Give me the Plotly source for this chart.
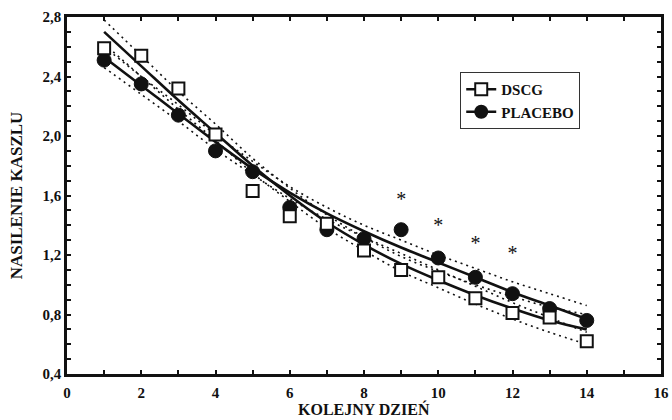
import plotly.graph_objects as go

days = [1, 2, 3, 4, 5, 6, 7, 8, 9, 10, 11, 12, 13, 14]

dscg = [2.59, 2.54, 2.32, 2.01, 1.63, 1.46, 1.41, 1.23, 1.10, 1.05, 0.91, 0.81, 0.78, 0.62]
placebo = [2.51, 2.35, 2.14, 1.90, 1.76, 1.52, 1.37, 1.31, 1.37, 1.18, 1.05, 0.94, 0.84, 0.76]

dscg_fit = [2.70, 2.47, 2.24, 2.02, 1.80, 1.60, 1.42, 1.27, 1.14, 1.03, 0.93, 0.84, 0.76, 0.70]
dscg_hi = [2.78, 2.54, 2.30, 2.08, 1.85, 1.65, 1.47, 1.32, 1.19, 1.09, 1.00, 0.92, 0.85, 0.80]
dscg_lo = [2.62, 2.40, 2.18, 1.97, 1.75, 1.56, 1.38, 1.23, 1.09, 0.98, 0.87, 0.77, 0.68, 0.60]

placebo_fit = [2.53, 2.34, 2.15, 1.96, 1.78, 1.62, 1.48, 1.36, 1.25, 1.15, 1.05, 0.95, 0.86, 0.77]
placebo_hi = [2.60, 2.40, 2.21, 2.01, 1.83, 1.66, 1.52, 1.40, 1.30, 1.20, 1.11, 1.02, 0.94, 0.86]
placebo_lo = [2.46, 2.28, 2.10, 1.91, 1.74, 1.58, 1.44, 1.32, 1.21, 1.10, 0.99, 0.88, 0.78, 0.68]

star_days = [9, 10, 11, 12]
star_vals = [1.56, 1.39, 1.27, 1.20]

x_tickvals = list(range(0, 17))
x_ticktext = [str(v) if v % 2 == 0 else "" for v in x_tickvals]
y_tickvals = [round(0.4 + 0.1 * i, 1) for i in range(25)]
y_labels = {0.4: "0,4", 0.8: "0,8", 1.2: "1,2", 1.6: "1,6", 2.0: "2,0", 2.4: "2,4", 2.8: "2,8"}
y_ticktext = [y_labels.get(v, "") for v in y_tickvals]

x_title = "KOLEJNY DZIEŃ"
y_title = "NASILENIE KASZLU"

FONT = "Liberation Serif"
BLACK = "#111111"

fig = go.Figure()

# confidence bands (dotted)
for band in [dscg_hi, dscg_lo, placebo_hi, placebo_lo]:
    fig.add_trace(go.Scatter(x=days, y=band, mode="lines", line_shape="spline",
                             line=dict(color=BLACK, width=1.6, dash="2px,4px"),
                             showlegend=False, hoverinfo="skip"))

# fitted curves
for fit in [dscg_fit, placebo_fit]:
    fig.add_trace(go.Scatter(x=days, y=fit, mode="lines", line_shape="spline",
                             line=dict(color=BLACK, width=2.6),
                             showlegend=False, hoverinfo="skip"))

# data markers
fig.add_trace(go.Scatter(x=days, y=placebo, mode="markers",
                         marker=dict(symbol="circle", size=14, color=BLACK,
                                     line=dict(color=BLACK, width=1)),
                         showlegend=False))
fig.add_trace(go.Scatter(x=days, y=dscg, mode="markers",
                         marker=dict(symbol="square", size=12, color="white",
                                     line=dict(color=BLACK, width=2)),
                         showlegend=False))

# significance stars
fig.add_trace(go.Scatter(x=star_days, y=star_vals, mode="text", text=["*"] * len(star_days),
                         textposition="middle center",
                         textfont=dict(family=FONT, size=20, color=BLACK),
                         showlegend=False, hoverinfo="skip"))

# legend entries
fig.add_trace(go.Scatter(x=[None], y=[None], mode="lines+markers", name="DSCG",
                         line=dict(color=BLACK, width=2.5),
                         marker=dict(symbol="square", size=12, color="white",
                                     line=dict(color=BLACK, width=2))))
fig.add_trace(go.Scatter(x=[None], y=[None], mode="lines+markers", name="PLACEBO",
                         line=dict(color=BLACK, width=2.5),
                         marker=dict(symbol="circle", size=14, color=BLACK)))

axis_common = dict(
    showgrid=False, zeroline=False, showline=True, linecolor=BLACK, linewidth=2.5,
    mirror="ticks", ticks="inside", ticklen=4, tickwidth=1.5, tickcolor=BLACK,
    automargin=False,
    tickfont=dict(family=FONT, size=15, color=BLACK, weight="bold"),
)

fig.update_layout(
    width=672, height=420,
    margin=dict(l=67, r=11, t=17, b=46),
    paper_bgcolor="white", plot_bgcolor="white",
    font=dict(family=FONT, color=BLACK),
    xaxis=dict(range=[0, 16], tickmode="array", tickvals=x_tickvals, ticktext=x_ticktext,
               ticklabelstandoff=3, **axis_common),
    yaxis=dict(range=[0.4, 2.8], tickmode="array", tickvals=y_tickvals, ticktext=y_ticktext,
               title=dict(text=y_title, standoff=16,
                          font=dict(family=FONT, size=17, color=BLACK, weight="bold")),
               **axis_common),
    legend=dict(x=0.662, y=0.846, xanchor="left", yanchor="top",
                bgcolor="white", bordercolor="#333333", borderwidth=1,
                font=dict(family=FONT, size=15, color=BLACK, weight="bold"),
                itemwidth=30, tracegroupgap=0),
    showlegend=True,
    annotations=[dict(text=x_title, xref="paper", yref="paper", x=0.5, y=-0.098,
                      xanchor="center", yanchor="middle", showarrow=False,
                      font=dict(family=FONT, size=16, color=BLACK, weight="bold"))],
)

fig.write_html("out.html", config={"displayModeBar": False},
               post_script="document.body.style.margin='0';document.body.style.overflow='hidden';")
